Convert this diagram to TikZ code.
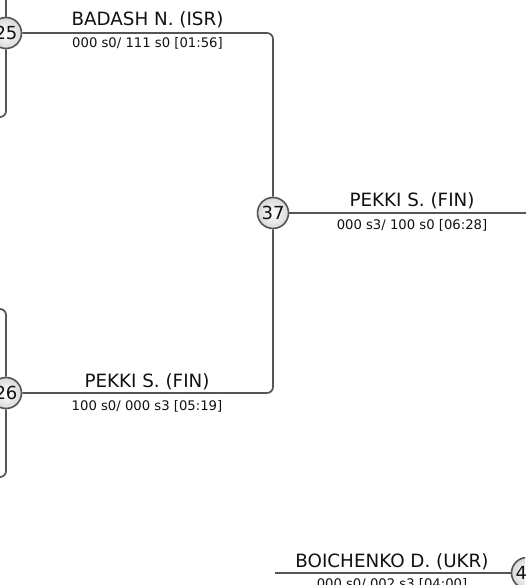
\documentclass[tikz,border=0pt]{standalone}
\usepackage{fontspec}
\setmainfont{DejaVu Sans}
\usetikzlibrary{backgrounds}
\definecolor{linec}{HTML}{555555}
\definecolor{txtc}{HTML}{111111}
\begin{document}
\begin{tikzpicture}[x=1pt,y=-1pt,
  seed/.style={circle, draw=linec, line width=1.6pt, minimum size=31pt, inner sep=0pt,
    inner color=white, outer color=gray!30, text=txtc, font=\fontsize{18}{20}\selectfont},
  conn/.style={draw=linec, line width=1.7pt, rounded corners=6pt},
  player/.style={anchor=base, text=txtc, inner sep=0pt, font=\fontsize{18.3}{20}\selectfont},
  score/.style={anchor=base, text=txtc, inner sep=0pt, font=\fontsize{13.2}{15}\selectfont}]
\useasboundingbox (0,0) rectangle (525,585);
\clip (0,0) rectangle (525,585);
% seeds
\node[seed] (s25) at (6,33) {25};
\node[seed] (s26) at (6,393) {26};
\node[seed] (s37) at (273,213) {37};
\node[seed] (s4) at (527,573) {4\phantom{0}};
% corner / end coordinates
\coordinate (k1) at (273,33);
\coordinate (k2) at (273,393);
\coordinate (t25) at (6,-60);
\coordinate (b25a) at (6,117);
\coordinate (b25b) at (-30,117);
\coordinate (t26b) at (-30,309);
\coordinate (t26a) at (6,309);
\coordinate (b26a) at (6,477);
\coordinate (b26b) at (-30,477);
\coordinate (e37) at (560,213);
\coordinate (w4) at (275,573);
\begin{scope}[on background layer]
\draw[conn] (s25) -- (k1) -- (s37);
\draw[conn] (s37) -- (k2) -- (s26);
\draw[conn] (t25) -- (s25);
\draw[conn] (s25) -- (b25a) -- (b25b);
\draw[conn] (t26b) -- (t26a) -- (s26);
\draw[conn] (s26) -- (b26a) -- (b26b);
\draw[conn] (s37) -- (e37);
\draw[conn] (w4) -- (s4);
\end{scope}
% labels
\node[player] (n1) at (147.5,26) {BADASH N. (ISR)};
\node[score] (m1) at (147.5,48) {000 s0/ 111 s0 [01:56]};
\node[player] (n2) at (412,206) {PEKKI S. (FIN)};
\node[score] (m2) at (412,229) {000 s3/ 100 s0 [06:28]};
\node[player] (n3) at (147,387) {PEKKI S. (FIN)};
\node[score] (m3) at (147,410) {100 s0/ 000 s3 [05:19]};
\node[player] (n4) at (392,567) {BOICHENKO D. (UKR)};
\node[score] (m4) at (392,588) {000 s0/ 002 s3 [04:00]};
\end{tikzpicture}
\end{document}
